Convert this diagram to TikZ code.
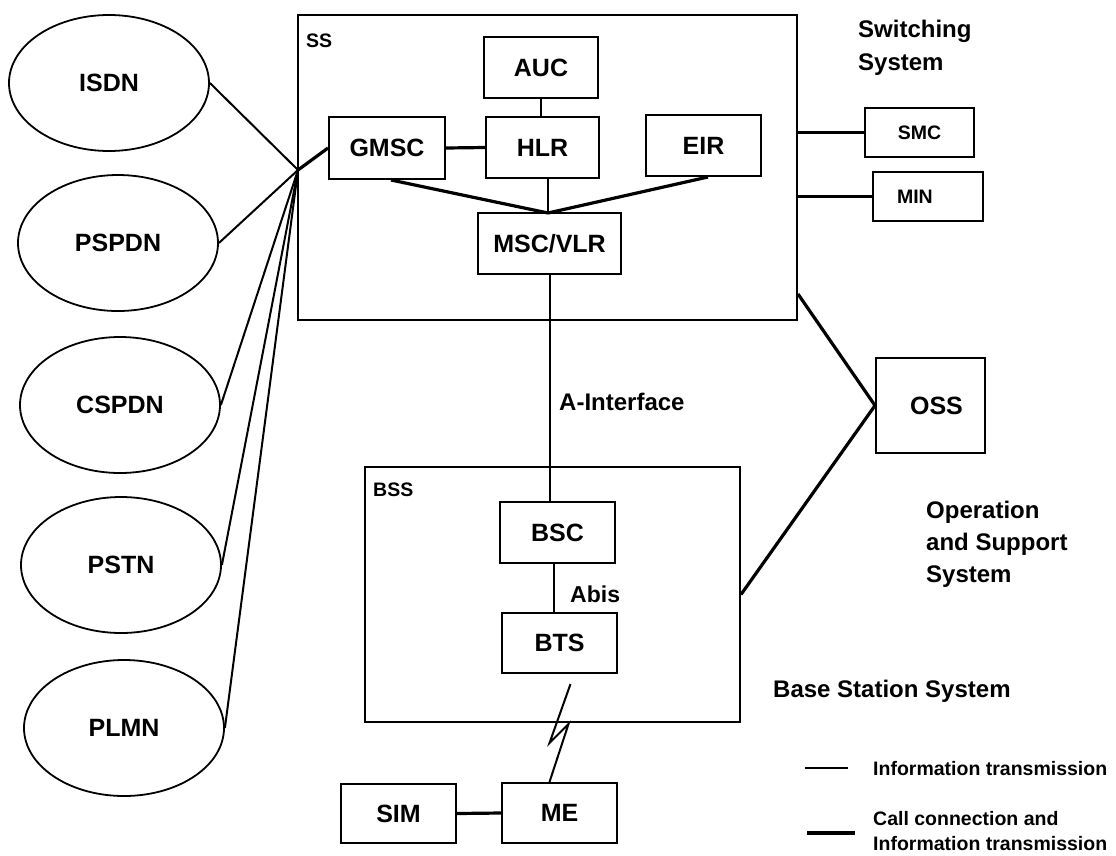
\documentclass[tikz,border=0pt]{standalone}
\usepackage{fontspec}
\setmainfont{Liberation Sans}
\usetikzlibrary{shapes.geometric,calc}
\begin{document}
\begin{tikzpicture}[x=1pt,y=-1pt,
  box/.style={draw, line width=2pt, inner sep=0pt, font=\fontsize{25}{30}\selectfont\bfseries},
  frame/.style={draw, line width=2pt, inner sep=0pt},
  net/.style={draw, ellipse, line width=1.8pt, minimum width=200pt, minimum height=136pt, inner sep=0pt, font=\fontsize{25}{30}\selectfont\bfseries},
  info/.style={line width=2pt},
  call/.style={line width=3.2pt},
  ann/.style={font=\fontsize{24}{28}\selectfont\bfseries, anchor=base west, inner sep=0pt},
  small/.style={font=\fontsize{19.5}{23}\selectfont\bfseries, anchor=base west, inner sep=0pt},
  legend/.style={font=\fontsize{19.5}{23}\selectfont\bfseries, anchor=base west, inner sep=0pt}
]
\useasboundingbox[fill=white] (0,0) rectangle (1116,855);

% external networks
\node[net] (isdn)  at (109,83)  {ISDN};
\node[net] (pspdn) at (118,243) {PSPDN};
\node[net] (cspdn) at (120,405) {CSPDN};
\node[net] (pstn)  at (121,565) {PSTN};
\node[net] (plmn)  at (124,728) {PLMN};

% switching system
\node[frame, minimum width=499pt, minimum height=305pt] (ss) at (547.5,167.5) {};
\node[small] (sslab) at (306,47) {SS};
\node[box, minimum width=114pt, minimum height=61pt] (auc) at (541,67.5) {AUC};
\node[box, minimum width=113pt, minimum height=61pt] (hlr) at (542.5,147.5) {HLR};
\node[box, minimum width=116pt, minimum height=62pt] (gmsc) at (387,148) {GMSC};
\node[box, minimum width=115pt, minimum height=61pt] (eir) at (703.5,145.5) {EIR};
\node[box, minimum width=143pt, minimum height=61pt] (msc) at (549.5,243.5) {MSC/VLR};
\coordinate (hub) at (298,170);
\coordinate (conv) at (548,213);

\node[box, font=\fontsize{19.5}{23}\selectfont\bfseries, minimum width=109pt, minimum height=49pt] (smc) at (919.5,132.5) {SMC};
\node[box, font=\fontsize{19.5}{23}\selectfont\bfseries, minimum width=110pt, minimum height=49pt, text width=62pt, inner xsep=24pt, align=left] (min) at (928,196.5) {MIN};

\node[ann] (sw1) at (858,37) {Switching};
\node[ann] (sw2) at (858,70) {System};

% OSS
\node[box, minimum width=109pt, minimum height=95pt] (oss) at (930.5,405.5) {\hspace{12pt}OSS};
\node[ann] (op1) at (926,518) {Operation};
\node[ann] (op2) at (926,550) {and Support};
\node[ann] (op3) at (926,582) {System};

% base station system
\node[frame, minimum width=375pt, minimum height=255pt] (bss) at (552.5,594.5) {};
\node[small] (bsslab) at (373,496) {BSS};
\node[box, minimum width=115pt, minimum height=61pt] (bsc) at (557.5,532.5) {BSC};
\node[box, minimum width=115pt, minimum height=60pt] (bts) at (559.5,643) {BTS};
\node[ann] (bsstxt) at (773,697) {Base Station System};

\node[box, minimum width=115pt, minimum height=59pt] (sim) at (398.5,813.5) {SIM};
\node[box, minimum width=115pt, minimum height=60pt] (me) at (559.5,813) {ME};

\node[ann] (aif) at (559,410) {A-Interface};
\node[ann, font=\fontsize{23}{27}\selectfont\bfseries] (abis) at (570,602) {Abis};

% connectors: networks to SS
\draw[info] (isdn.east) -- (hub);
\draw[info] (pspdn.east) -- (hub);
\draw[info] (cspdn.east) -- (hub);
\draw[info] (pstn.east) -- (hub);
\draw[info] (plmn.east) -- (hub);
\draw[call] (hub) -- (gmsc.west);

% inside SS
\draw[call] (gmsc.east) -- (hlr.west);
\draw[line width=2.6pt] (auc.south) -- (auc.south |- hlr.north);
\draw[info] (conv |- hlr.south) -- (conv);
\draw[call] ([xshift=4pt]gmsc.south) -- (conv);
\draw[call] ([xshift=4.5pt]eir.south) -- (conv);

% SS to SMC / MIN / OSS
\draw[call] (ss.east |- smc.west) -- (smc.west);
\draw[call] (ss.east |- min.west) -- (min.west);
\draw[call] ([yshift=27pt]ss.south east) -- (oss.west) -- (bss.east);

% A interface, Abis, radio
\draw[info] (msc.south) -- (msc.south |- bsc.north);
\draw[info] ([xshift=-4pt]bsc.south) -- ([xshift=-4pt]bsc.south |- bts.north);
\draw[info] ([shift={(11,10)}]bts.south) -- ++(-21,59) -- ++(19,-19) -- ([xshift=-10pt]me.north);
\draw[call] (sim.east) -- (me.west);

% legend
\coordinate (l1a) at (805,768);
\coordinate (l1b) at (848,768);
\coordinate (l2a) at (807,833);
\coordinate (l2b) at (855,833);
\draw[info] (l1a) -- (l1b);
\draw[line width=3.8pt] (l2a) -- (l2b);
\node[legend] (lg1) at (873,775) {Information transmission};
\node[legend] (lg2) at (873,825) {Call connection and};
\node[legend] (lg3) at (873,850) {Information transmission};
\end{tikzpicture}
\end{document}
